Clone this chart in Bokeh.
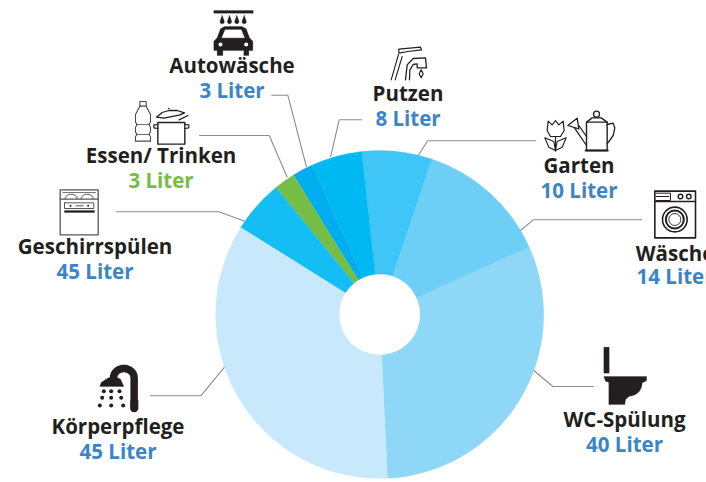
import numpy as np
from bokeh.plotting import figure
from bokeh.models import Range1d
from bokeh.core.properties import value
from bokeh.embed import file_html
from bokeh.resources import INLINE

# ---- data (slice shares in litres, anticlockwise from WC-Spülung)
categories = ["WC-Spülung", "Wäsche", "Garten", "Putzen", "Autowäsche", "Essen/ Trinken", "Geschirrspülen", "Körperpflege"]
labels = ["40 Liter", "14 Liter", "10 Liter", "8 Liter", "3 Liter", "3 Liter", "45 Liter", "45 Liter"]
shares = [40.0, 16.9, 8.9, 6.45, 2.65, 2.7, 6.7, 44.7]
colors = ["#8fd7f7", "#6dcff6", "#3fc5f6", "#00b9f2", "#00aeef", "#76bd45", "#14bef4", "#c7e9fb"]
label_colors = ["#3a85c8"] * 5 + ["#76bd45"] + ["#3a85c8"] * 2

# ---- layout (reference pixels)
W, H = 706, 482
CX, CY, R_OUT, R_IN = 379.2, 314, 164, 40.5
START_CW = 177.3
TEXT_SHIFT = 8
text_cx = [624, 674.5, 578.5, 407.5, 231.5, 160.5, 94.5, 117.5]
name_base = [426.7, 260, 172.7, 100, 72.7, 162.7, 253, 433]
value_base = [451.7, 283.5, 197.7, 125, 97.7, 187.7, 278, 458]
leaders = [
    [(533.3, 370), (552.3, 386), (593.3, 386)],
    [(641.7, 219.3), (532.7, 219.3), (520, 230)],
    [(535.7, 140.3), (427.3, 140.3), (417.7, 155)],
    [(361.7, 119.3), (338.7, 119.3), (330, 156.7)],
    [(270.7, 94.7), (287.3, 94.7), (306, 166.7)],
    [(198.7, 135), (268.7, 135), (286.7, 176.7)],
    [(115.3, 211.3), (218.3, 211.3), (244.3, 220.7)],
    [(149.3, 395.3), (200.3, 395.3), (224, 366.7)],
]
INK = "#231f20"
LEAD = "#8c8c8c"

p = figure(width=W, height=H, x_range=Range1d(0, W), y_range=Range1d(0, H),
           output_backend="svg", toolbar_location=None, min_border=0, outline_line_color=None)
p.axis.visible = False
p.grid.visible = False
p.background_fill_color = "#ffffff"


def Y(py):
    return 482 - py


# ---- the pie
total = sum(shares)
cum = START_CW - np.cumsum([0] + shares) / total * 360
start = np.radians(90 - cum[:-1])
end = np.radians(90 - cum[1:])
p.annular_wedge(x=[CX] * 8, y=[Y(CY)] * 8, inner_radius=R_IN, outer_radius=R_OUT,
                start_angle=start, end_angle=end, fill_color=colors, line_color=colors, line_width=0.3)

# ---- leader lines
for pts in leaders:
    p.line([a for a, _ in pts], [Y(b) for _, b in pts], line_color=LEAD, line_width=1.1)

# ---- texts
p.text(x=text_cx, y=[Y(v - TEXT_SHIFT) for v in name_base], text=categories, text_font=value("Open Sans"),
       text_font_style="bold", text_font_size="20.5px", text_color=INK, text_align="center",
       text_baseline="alphabetic")
p.text(x=text_cx, y=[Y(v - TEXT_SHIFT) for v in value_base], text=labels, text_font=value("Open Sans"),
       text_font_style="bold", text_font_size="20.5px", text_color=label_colors, text_align="center",
       text_baseline="alphabetic")


# ---- icon helpers; coordinates are 3x crop coordinates with an origin
class Z:
    def __init__(self, ox, oy):
        self.ox, self.oy = ox, oy

    def fill(self, pts, color=INK):
        p.patch([a / 3 + self.ox for a, _ in pts], [Y(b / 3 + self.oy) for _, b in pts],
                fill_color=color, line_color=color, line_width=0.3)

    def line(self, pts, width=1.2, color=INK):
        p.line([a / 3 + self.ox for a, _ in pts], [Y(b / 3 + self.oy) for _, b in pts],
               line_color=color, line_width=width, line_join="round", line_cap="round")

    def circ(self, x, y, r, fill=None, line=None, width=1.2):
        p.circle(x=[x / 3 + self.ox], y=[Y(y / 3 + self.oy)], radius=r / 3,
                 fill_color=fill, line_color=line, line_width=width, fill_alpha=1 if fill else 0)

    def drop(self, x, y0, y1, w, color=INK):
        r = w / 2
        cy = y1 - r
        t = np.linspace(-0.3, np.pi + 0.3, 14)
        pts = [(x, y0)] + [(x + r * np.cos(a), cy + r * np.sin(a)) for a in t]
        self.fill(pts, color)


# car wash
z = Z(80, 0)
z.fill([(400, 30), (518, 30), (518, 38), (400, 38)])
for dx in [425, 447, 469, 491]:
    z.drop(dx, 44, 70, 13)
z.fill([(432, 78), (484, 78), (497, 85), (507, 112), (517, 122), (517, 150), (505, 150), (505, 165), (490, 165),
        (490, 150), (427, 150), (427, 165), (410, 165), (410, 150), (400, 150), (400, 122), (410, 112), (420, 85)])
z.fill([(434, 88), (482, 88), (492, 112), (424, 112)], "#ffffff")
z.circ(420, 132, 6, fill="#ffffff")
z.circ(497, 132, 6, fill="#ffffff")

# bottle and pot
GB = "#4a4a4a"
z.line([(178, 303), (197, 303), (197, 317), (178, 317), (178, 303)], 1.1, GB)
z.line([(178, 317), (165, 342), (165, 365), (170, 372), (165, 380), (165, 395), (170, 402), (165, 408), (165, 422),
        (210, 422), (210, 408), (205, 402), (210, 395), (210, 380), (205, 372), (210, 365), (210, 342), (197, 317)], 1.1, GB)
z.line([(168, 372), (207, 372)], 0.8, GB)
z.line([(168, 402), (207, 402)], 0.8, GB)
z.line([(232, 366), (232, 431), (313, 431), (313, 366), (232, 366)], 1.4)
z.line([(232, 372), (220, 373), (220, 382), (232, 384)], 1.2)
z.line([(313, 372), (325, 373), (325, 382), (313, 384)], 1.2)
z.line([(228, 350), (245, 336), (265, 330), (290, 330), (312, 337), (296, 344), (250, 353), (228, 350)], 1.3)
z.line([(296, 358), (322, 345)], 1.3)
z.circ(265, 324, 2.5, fill=INK)

# tap
z = Z(370, 30)
z.line([(85, 56), (150, 50), (153, 58), (112, 63), (85, 68), (85, 56)], 1.2)
z.line([(62, 148), (84, 72)], 1.1)
z.line([(74, 148), (95, 78)], 1.1)
z.line([(105, 148), (110, 103), (128, 84), (165, 82), (168, 112), (140, 112), (140, 100), (128, 102), (118, 118), (117, 148)], 1.3)
z.line([(152, 118), (158, 130), (152, 142), (146, 130), (152, 118)], 1.2)

# tulip and watering can
z.line([(533, 272), (545, 283), (555, 270), (565, 283), (578, 272), (581, 300), (570, 318), (540, 318), (530, 300), (533, 272)], 1.2)
z.line([(555, 318), (555, 362)], 1.2)
z.line([(523, 322), (550, 333), (555, 360), (535, 350), (523, 322)], 1.1)
z.line([(587, 322), (560, 333), (555, 360), (575, 350), (587, 322)], 1.1)
z.line([(648, 275), (665, 262), (692, 262), (710, 275), (710, 360), (648, 360), (648, 275)], 1.4)
z.line([(648, 275), (710, 275)], 1.1)
z.circ(678, 251, 9, line=INK, width=1.3)
z.line([(710, 282), (728, 278), (733, 292), (728, 315), (710, 340)], 1.3)
z.line([(648, 345), (612, 292)], 1.3)
z.line([(648, 318), (625, 285)], 1.3)
z.line([(592, 285), (620, 263), (625, 295), (592, 285)], 1.3)
z.line([(645, 360), (712, 360)], 1.8)

# washing machine
z.line([(853, 482), (975, 482), (975, 622), (853, 622), (853, 482)], 1.6)
z.line([(853, 513), (975, 513)], 1.4)
z.line([(857, 488), (900, 488), (900, 510), (857, 510)], 1.0)
z.line([(857, 498), (895, 498)], 1.0)
z.circ(930, 498, 7, line=INK, width=1.4)
z.circ(955, 498, 7, line=INK, width=1.4)
z.circ(913, 567, 37, line=INK, width=1.6)
z.circ(913, 567, 27, line=INK, width=2.0)
z.circ(913, 567, 18, line=INK, width=0.9)

# toilet
z = Z(520, 330)
z.fill([(250, 50), (266, 50), (266, 128), (250, 128)])
th = np.linspace(0, np.pi / 2, 8)
z.fill([(250, 138), (378, 138), (378, 150), (370, 155)] +
       [(327 + 38 * np.cos(a), 157 + 40 * np.sin(a)) for a in th] +
       [(322, 200), (315, 208), (313, 222), (265, 222), (265, 155), (255, 152)])

# dishwasher
z = Z(10, 180)
GREY = "#555555"
z.line([(149, 28), (263, 28), (263, 163), (149, 163), (149, 28)], 1.3, GREY)
z.line([(149, 56), (263, 56)], 1.3, GREY)
z.line([(157, 36), (255, 36)], 0.8, GREY)
th = np.linspace(0, np.pi, 12)
z.line([(182 + 18 * np.cos(a), 55 - 14 * np.sin(a)) for a in th], 1.0, GREY)
z.line([(230 + 18 * np.cos(a), 55 - 14 * np.sin(a)) for a in th], 1.0, GREY)
z.line([(162, 67), (250, 67), (250, 84), (162, 84), (162, 67)], 1.0, GREY)
z.circ(180, 76, 3, fill=INK)
z.circ(233, 76, 3, fill=INK)
z.line([(196, 76), (218, 76)], 1.0, GREY)
z.fill([(162, 90), (252, 90), (252, 96), (162, 96)])

# shower
th = np.linspace(0, np.pi, 16)
z.line([(371, 684), (371, 596)] + [(340 + 31 * np.cos(a), 592 - 28 * np.sin(a)) for a in th] + [(309, 598)], 7.5)
z.fill([(268, 618), (272, 606), (290, 594), (310, 586), (330, 596), (340, 618)])
z.fill([(360, 660), (383, 660), (383, 687), (360, 687)])
for yy, xs in [(632, [280, 302, 327]), (652, [275, 302, 332]), (675, [268, 302, 338])]:
    for xx in xs:
        z.circ(xx, yy, 6, fill=INK)

open("out.html", "w").write(file_html(p, INLINE))
